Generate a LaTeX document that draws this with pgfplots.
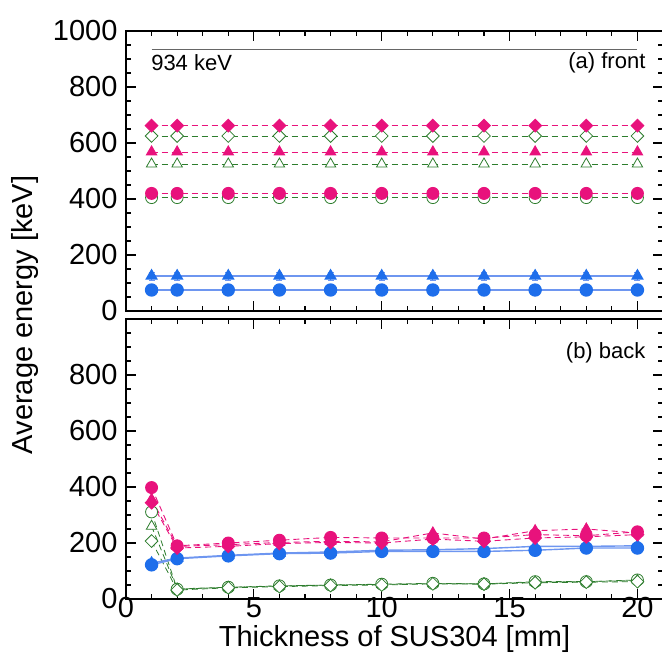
\documentclass[border=0pt]{standalone}
\usepackage{fontspec}
\setmainfont{Liberation Sans}
\usepackage{pgfplots}
\pgfplotsset{compat=1.18}
\usetikzlibrary{calc}

\definecolor{pnk}{RGB}{232,18,124}
\definecolor{blu}{RGB}{30,110,235}
\definecolor{bluln}{RGB}{110,150,240}
\definecolor{grn}{RGB}{45,125,45}

\pgfplotsset{
  panel/.style={
    width=537pt, height=280pt, scale only axis,
    xmin=0, xmax=21, ymin=0, ymax=1000,
    xtick={0,5,...,20}, minor x tick num=4,
    ytick={0,200,...,1000}, minor y tick num=3,
    tick align=inside, major tick length=10pt, minor tick length=5pt,
    xtick pos=both, ytick pos=both,
    axis line style={line width=1.2pt},
    every tick/.style={black, line width=1.2pt},
    tick label style={font=\fontsize{29}{30}\selectfont},
    yticklabel style={xshift=-5pt},
    /pgf/number format/assume math mode=true,
    /pgf/number format/1000 sep={},
    clip=false,
  },
  pf/.style={pnk, dashed, dash pattern=on 6pt off 4pt, line width=0.9pt, mark options={solid, fill=pnk}},
  gr/.style={grn, dashed, dash pattern=on 6pt off 4pt, line width=0.8pt, mark options={solid, fill=white}},
  bl/.style={bluln, line width=1.4pt, mark options={blu, fill=blu}},
  mc/.style={mark=*, mark size=6pt},
  mt/.style={mark=triangle*, mark size=6pt},
  md/.style={mark=square*, mark size=4.5pt, mark options={rotate=45}},
}

\begin{document}
\begin{tikzpicture}
\begin{axis}[panel, name=top, xticklabels={}]
\addplot[black!60, line width=0.8pt] coordinates {(1,934) (20,934)};
% green open
\addplot[gr, mc] coordinates {(1,405) (2,405) (4,405) (6,405) (8,405) (10,405) (12,405) (14,405) (16,405) (18,405) (20,405)};
\addplot[gr, mt] coordinates {(1,525) (2,525) (4,525) (6,525) (8,525) (10,525) (12,525) (14,525) (16,525) (18,525) (20,525)};
\addplot[gr, md, mark options={solid, fill=white, rotate=45}] coordinates {(1,625) (2,625) (4,625) (6,625) (8,625) (10,625) (12,625) (14,625) (16,625) (18,625) (20,625)};
% pink filled
\addplot[pf, mc] coordinates {(1,420) (2,420) (4,420) (6,420) (8,420) (10,420) (12,420) (14,420) (16,420) (18,420) (20,420)};
\addplot[pf, mt] coordinates {(1,568) (2,568) (4,568) (6,568) (8,568) (10,568) (12,568) (14,568) (16,568) (18,568) (20,568)};
\addplot[pf, md, mark options={solid, fill=pnk, rotate=45}] coordinates {(1,662) (2,662) (4,662) (6,662) (8,662) (10,662) (12,662) (14,662) (16,662) (18,662) (20,662)};
% blue
\addplot[bl, mc] coordinates {(1,75) (2,75) (4,75) (6,75) (8,75) (10,75) (12,75) (14,75) (16,75) (18,75) (20,75)};
\addplot[bl, mt, error bars/.cd, y dir=both, y explicit, error bar style={bluln, line width=1pt}, error mark options={bluln, mark size=3pt, rotate=90}]
  coordinates {(1,125) +- (0,15) (2,125) +- (0,15) (4,125) +- (0,15) (6,125) +- (0,15) (8,125) +- (0,15) (10,125) +- (0,15) (12,125) +- (0,15) (14,125) +- (0,15) (16,125) +- (0,15) (18,125) +- (0,15) (20,125) +- (0,15)};
\node[anchor=west, font=\fontsize{22}{23}\selectfont] at (axis cs:0.85,887) {934 keV};
\node[anchor=east, font=\fontsize{22}{23}\selectfont] at (axis cs:20.45,887) {(a) front};
\end{axis}

\begin{axis}[panel, name=bot, at={($(top.south west)+(0,-8pt)$)}, anchor=north west,
  yticklabels={0,200,400,600,800,},
  xlabel={Thickness of SUS304 [mm]},
  xlabel style={font=\fontsize{29}{30}\selectfont, yshift=-1pt},
  xticklabel style={yshift=5pt}]
% green open
\addplot[gr, mc] coordinates {(1,311) (2,35) (4,42) (6,47) (8,50) (10,53) (12,56) (14,54) (16,62) (18,62) (20,68)};
\addplot[gr, mt] coordinates {(1,260) (2,36) (4,42) (6,46) (8,50) (10,52) (12,55) (14,54) (16,60) (18,62) (20,66)};
\addplot[gr, md, mark options={solid, fill=white, rotate=45}] coordinates {(1,207) (2,32) (4,40) (6,44) (8,48) (10,50) (12,54) (14,53) (16,58) (18,60) (20,62)};
% blue
\addplot[bl, mt] coordinates {(1,128) (2,146) (4,156) (6,164) (8,168) (10,174) (12,176) (14,180) (16,188) (18,188) (20,190)};
\addplot[bl, mc] coordinates {(1,122) (2,144) (4,154) (6,162) (8,164) (10,170) (12,170) (14,170) (16,174) (18,182) (20,182)};
% pink filled
\addplot[pf, md, mark options={solid, fill=pnk, rotate=45}] coordinates {(1,344) (2,182) (4,188) (6,198) (8,202) (10,200) (12,214) (14,206) (16,218) (18,222) (20,230)};
\addplot[pf, mt] coordinates {(1,356) (2,188) (4,194) (6,202) (8,206) (10,204) (12,236) (14,214) (16,244) (18,250) (20,236)};
\addplot[pf, mc] coordinates {(1,398) (2,190) (4,200) (6,210) (8,220) (10,218) (12,218) (14,218) (16,230) (18,226) (20,240)};
\node[anchor=east, font=\fontsize{22}{23}\selectfont] at (axis cs:20.45,879) {(b) back};
\end{axis}

\node[rotate=90, font=\fontsize{29}{30}\selectfont] at ($(top.south west)!0.5!(bot.north west)+(-101pt,0)$) {Average energy [keV]};

\pgfresetboundingbox
\useasboundingbox ($(top.north west)+(-126pt,31pt)$) rectangle ($(bot.south east)+(-1pt,-55pt)$);
\end{tikzpicture}
\end{document}
